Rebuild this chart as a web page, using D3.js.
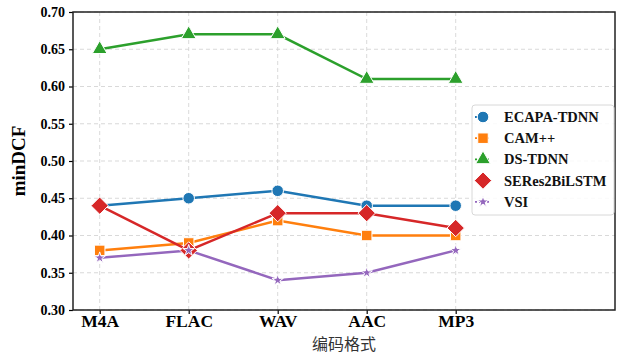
<!DOCTYPE html>
<html>
<head>
<meta charset="utf-8">
<script src="https://cdn.jsdelivr.net/npm/d3@7"></script>
<style>
  html, body { margin: 0; padding: 0; background: #fff; }
  svg { display: block; }
</style>
</head>
<body>
<svg id="chart" width="621" height="354"></svg>
<script>
// Codec formats on the x axis
const categories = ["M4A", "FLAC", "WAV", "AAC", "MP3"];
// minDCF per model, one value per codec
const ecapa = [0.44, 0.45, 0.46, 0.44, 0.44];
const campp = [0.38, 0.39, 0.42, 0.40, 0.40];
const dstdnn = [0.65, 0.67, 0.67, 0.61, 0.61];
const seres = [0.44, 0.38, 0.43, 0.43, 0.41];
const vsi = [0.37, 0.38, 0.34, 0.35, 0.38];
const seriesNames = ["ECAPA-TDNN", "CAM++", "DS-TDNN", "SERes2BiLSTM", "VSI"];
const yTicks = [0.30, 0.35, 0.40, 0.45, 0.50, 0.55, 0.60, 0.65, 0.70];

// Square diamond (a square turned 45 degrees)
const symbolDiamondSq = {
  draw(ctx, size) {
    const r = Math.sqrt(size / 2);
    ctx.moveTo(0, -r); ctx.lineTo(r, 0); ctx.lineTo(0, r); ctx.lineTo(-r, 0); ctx.closePath();
  }
};

const series = [
  { name: seriesNames[0], values: ecapa, color: "#1f77b4", symbol: d3.symbolCircle, size: 105 },
  { name: seriesNames[1], values: campp, color: "#ff7f0e", symbol: d3.symbolSquare, size: 110 },
  { name: seriesNames[2], values: dstdnn, color: "#2ca02c", symbol: d3.symbolTriangle, size: 95 },
  { name: seriesNames[3], values: seres, color: "#d62728", symbol: symbolDiamondSq, size: 150 },
  { name: seriesNames[4], values: vsi, color: "#9467bd", symbol: d3.symbolStar, size: 40 }
];

const svg = d3.select("#chart");
const plotL = 73, plotR = 615, plotT = 12, plotB = 310;

const x = d3.scaleLinear().domain([-0.3, 5.79]).range([plotL, plotR]);
const y = d3.scaleLinear().domain([0.30, 0.70]).range([plotB, plotT]);

// Grid
const grid = svg.append("g");
grid.selectAll("line.h").data(yTicks).join("line")
  .attr("x1", plotL).attr("x2", plotR)
  .attr("y1", d => y(d)).attr("y2", d => y(d))
  .attr("stroke", "#cfcfcf").attr("stroke-width", 0.8).attr("stroke-dasharray", "4,3");
grid.selectAll("line.v").data(categories).join("line")
  .attr("x1", (d, i) => x(i)).attr("x2", (d, i) => x(i))
  .attr("y1", plotT).attr("y2", plotB)
  .attr("stroke", "#cfcfcf").attr("stroke-width", 0.8).attr("stroke-dasharray", "4,3");

// Axes
const yAxis = d3.axisLeft(y).tickValues(yTicks).tickFormat(d3.format(".2f")).tickSize(4).tickPadding(4);
const gy = svg.append("g").attr("transform", `translate(${plotL},0)`).call(yAxis);
gy.select(".domain").remove();
gy.selectAll("text")
  .attr("font-family", "'Liberation Serif', 'Times New Roman', serif")
  .attr("font-weight", "bold").attr("font-size", 14).attr("fill", "#000");
gy.selectAll("line").attr("stroke", "#000").attr("stroke-width", 1.2);

const xAxis = d3.axisBottom(x).tickValues(d3.range(categories.length))
  .tickFormat(i => categories[i]).tickSize(4).tickPadding(1);
const gx = svg.append("g").attr("transform", `translate(0,${plotB})`).call(xAxis);
gx.select(".domain").remove();
gx.selectAll("text")
  .attr("font-family", "'Liberation Serif', 'Times New Roman', serif")
  .attr("font-weight", "bold").attr("font-size", 17.5).attr("fill", "#000");
gx.selectAll("line").attr("stroke", "#000").attr("stroke-width", 1.2);

// Frame
svg.append("rect")
  .attr("x", plotL).attr("y", plotT).attr("width", plotR - plotL).attr("height", plotB - plotT)
  .attr("fill", "none").attr("stroke", "#222").attr("stroke-width", 1.5);

// Axis titles
svg.append("text")
  .attr("transform", `translate(25,${(plotT + plotB) / 2}) rotate(-90)`)
  .attr("text-anchor", "middle")
  .attr("font-family", "'Liberation Serif', 'Times New Roman', serif")
  .attr("font-weight", "bold").attr("font-size", 19)
  .text("minDCF");
svg.append("text")
  .attr("x", (plotL + plotR) / 2).attr("y", 350)
  .attr("text-anchor", "middle")
  .attr("font-family", "'Noto Sans CJK SC', sans-serif")
  .attr("font-size", 16).attr("fill", "#333")
  .text("编码格式");

// Lines and markers
const line = d3.line().x((d, i) => x(i)).y(d => y(d));
series.forEach(s => {
  svg.append("path").datum(s.values)
    .attr("d", line).attr("fill", "none")
    .attr("stroke", s.color).attr("stroke-width", 2.5);
});
series.forEach(s => {
  svg.append("g").selectAll("path").data(s.values).join("path")
    .attr("transform", (d, i) => `translate(${x(i)},${y(d)})`)
    .attr("d", d3.symbol().type(s.symbol).size(s.size))
    .attr("fill", s.color).attr("stroke", "#fff").attr("stroke-width", 1);
});

// Legend
const lg = svg.append("g");
lg.append("rect")
  .attr("x", 472).attr("y", 105).attr("width", 142).attr("height", 110).attr("rx", 3)
  .attr("fill", "#fff").attr("fill-opacity", 0.85)
  .attr("stroke", "#d8d8d8").attr("stroke-width", 1);
series.forEach((s, k) => {
  const cy = 117 + k * 21.2;
  lg.append("line")
    .attr("x1", 475).attr("x2", 491).attr("y1", cy).attr("y2", cy)
    .attr("stroke", s.color).attr("stroke-width", 1.8).attr("stroke-dasharray", "2,2");
  lg.append("path")
    .attr("transform", `translate(483,${cy})`)
    .attr("d", d3.symbol().type(s.symbol).size(s.size))
    .attr("fill", s.color).attr("stroke", "#fff").attr("stroke-width", 1);
  lg.append("text")
    .attr("x", 504).attr("y", cy + 5)
    .attr("font-family", "'Liberation Serif', 'Times New Roman', serif")
    .attr("font-weight", "bold").attr("font-size", 14.5).attr("fill", "#111")
    .text(s.name);
});
</script>
</body>
</html>
